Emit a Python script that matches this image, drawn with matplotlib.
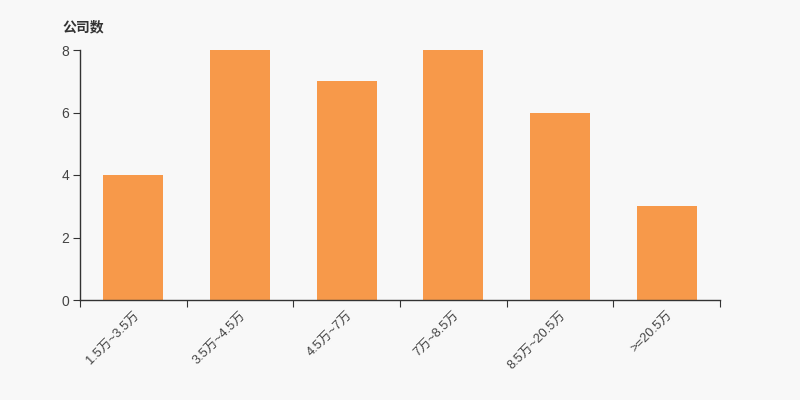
import matplotlib
matplotlib.use("Agg")
import matplotlib.pyplot as plt
import numpy as np

plt.rcParams['font.family'] = ['Liberation Sans', 'Noto Sans CJK SC', 'DejaVu Sans']

categories = ["1.5万~3.5万", "3.5万~4.5万", "4.5万~7万", "7万~8.5万", "8.5万~20.5万", ">=20.5万"]
values = [4, 8, 7, 8, 6, 3]
yticks = [0, 2, 4, 6, 8]

bg = "#f8f8f8"
fig = plt.figure(figsize=(8, 4), dpi=100, facecolor=bg)
ax = fig.add_axes([0.1, 0.25, 0.8, 0.625], facecolor=bg)

x = np.arange(len(categories))
ax.bar(x, values, width=0.5625, color="#f7994a", zorder=2)

ax.set_xlim(-0.5, len(categories) - 0.5)
ax.set_ylim(0, 8)
ax.set_yticks(yticks)
ax.set_yticklabels([str(v) for v in yticks], fontsize=10, color="#444444")

ax.set_xticks(np.arange(len(categories) + 1) - 0.5)
ax.set_xticklabels([])
ax.set_xticks(x, minor=True)
ax.set_xticklabels(categories, minor=True, rotation=45, ha='right', va='top',
                   rotation_mode='anchor', fontsize=9.3, color="#444444")
ax.tick_params(axis='x', which='minor', length=0, pad=7)
ax.tick_params(axis='x', which='major', length=5, color="#333333")
ax.tick_params(axis='y', length=5, color="#333333", pad=3)

for s in ['top', 'right']:
    ax.spines[s].set_visible(False)
for s in ['left', 'bottom']:
    ax.spines[s].set_color("#333333")
    ax.spines[s].set_linewidth(1)

fig.text(0.078, 0.932, "公司数", fontsize=10, fontweight='bold', color="#333333",
         family=['Noto Sans CJK SC', 'DejaVu Sans'], ha='left', va='center')

fig.savefig("out.png", dpi=100, facecolor=bg)
